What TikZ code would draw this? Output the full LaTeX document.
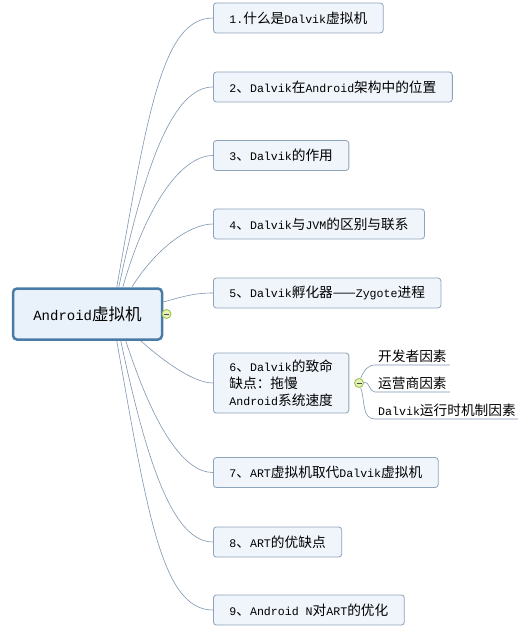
\documentclass[tikz,border=0pt]{standalone}
\usepackage{fontspec}
\setmainfont{Liberation Mono}
\newfontfamily\zhfont{Noto Sans CJK SC}[Scale=1.18]
\newcommand\zh[1]{{\zhfont #1}}
\usetikzlibrary{positioning}
\definecolor{linec}{HTML}{7F97B0}
\definecolor{boxline}{HTML}{8EA4BA}
\definecolor{boxfill}{HTML}{F0F5FB}
\definecolor{rootline}{HTML}{4A7BA6}
\definecolor{rootfill}{HTML}{E9F1FA}
\definecolor{foldline}{HTML}{9BC040}
\definecolor{foldfill}{HTML}{E4F2B8}
\tikzset{
  root/.style={
    draw = rootline,
    fill = rootfill,
    line width = 2.5pt,
    rounded corners = 4pt,
    minimum width = 149pt,
    minimum height = 51pt,
    font = \fontsize{14}{17}\selectfont
  },
  topic/.style={
    draw = boxline,
    fill = boxfill,
    line width = .8pt,
    rounded corners = 3pt,
    anchor = west,
    inner xsep = 16pt,
    minimum height = 30pt,
    font = \fontsize{11.6}{17}\selectfont
  },
  leaf/.style={
    anchor = south west,
    inner xsep = 3pt,
    inner ysep = 2pt,
    font = \fontsize{11.6}{14}\selectfont
  },
  fold/.style={
    circle,
    draw = foldline,
    fill = foldfill,
    line width = .8pt,
    minimum size = 9pt,
    inner sep = 0pt,
    path picture = {\draw[line width=.6pt, black!70]
      ([xshift=-2.5pt]path picture bounding box.center) --
      ([xshift=2.5pt]path picture bounding box.center);}
  },
  branch/.style={
    draw = linec,
    line width = .6pt
  }
}
\begin{document}
\begin{tikzpicture}[x=1pt,y=-1pt]
  \useasboundingbox[fill=white] (0,0) rectangle (518,628);

  % central topic
  \node[root] (root) at (87.5,314) {Android\zh{虚拟机}};

  % main branches
  \node[topic] (t1) at (213,18) {1.\zh{什么是}Dalvik\zh{虚拟机}};
  \node[topic] (t2) at (213,87) {2\zh{、}Dalvik\zh{在}Android\zh{架构中的位置}};
  \node[topic] (t3) at (213,155.5) {3\zh{、}Dalvik\zh{的作用}};
  \node[topic] (t4) at (213,224) {4\zh{、}Dalvik\zh{与}JVM\zh{的区别与联系}};
  \node[topic] (t5) at (213,293) {5\zh{、}Dalvik\zh{孵化器——}Zygote\zh{进程}};
  \node[topic, align=left, minimum height=60pt] (t6) at (213,383)
    {6\zh{、}Dalvik\zh{的致命}\\\zh{缺点：拖慢}\\Android\zh{系统速度}};
  \node[topic] (t7) at (213,472.5) {7\zh{、}ART\zh{虚拟机取代}Dalvik\zh{虚拟机}};
  \node[topic] (t8) at (213,542) {8\zh{、}ART\zh{的优缺点}};
  \node[topic] (t9) at (213,610) {9\zh{、}Android N\zh{对}ART\zh{的优化}};

  % sub topics of 6
  \node[leaf] (s1) at (375,365) {\zh{开发者因素}};
  \node[leaf] (s2) at (375,392) {\zh{运营商因素}};
  \node[leaf] (s3) at (375,419) {Dalvik\zh{运行时机制因素}};

  % start points on the central topic
  \coordinate (r1) at ([xshift=105pt]root.north west);
  \coordinate (r2) at ([xshift=107pt]root.north west);
  \coordinate (r3) at ([xshift=111pt]root.north west);
  \coordinate (r4) at ([xshift=120pt]root.north west);
  \coordinate (r5) at ([yshift=12pt]root.east);
  \coordinate (r6) at ([xshift=129pt]root.south west);
  \coordinate (r7) at ([xshift=114pt]root.south west);
  \coordinate (r8) at ([xshift=109pt]root.south west);
  \coordinate (r9) at ([xshift=105pt]root.south west);

  \draw[branch] (r1) to[out=80, in=180, out looseness=1.6, in looseness=.45] (t1.west);
  \draw[branch] (r2) to[out=78, in=180, out looseness=1.5, in looseness=.45] (t2.west);
  \draw[branch] (r3) to[out=74, in=180, out looseness=1.4, in looseness=.5] (t3.west);
  \draw[branch] (r4) to[out=58, in=180, out looseness=1.1, in looseness=.6] (t4.west);
  \draw[branch] (r5) to[out=15, in=180] (t5.west);
  \draw[branch] (r6) to[out=-42, in=180, out looseness=.9, in looseness=.6] (t6.west);
  \draw[branch] (r7) to[out=-72, in=180, out looseness=1.4, in looseness=.5] (t7.west);
  \draw[branch] (r8) to[out=-78, in=180, out looseness=1.5, in looseness=.45] (t8.west);
  \draw[branch] (r9) to[out=-80, in=180, out looseness=1.6, in looseness=.45] (t9.west);

  % fold markers
  \node[fold] (f0) at (166.5,314) {};
  \node[fold] (f6) at (359,383) {};

  \draw[branch] (f6) to[out=70, in=180] (s1.south west) -- (s1.south east);
  \draw[branch] (f6) to[out=10, in=180] (s2.south west) -- (s2.south east);
  \draw[branch] (f6) to[out=-70, in=180] (s3.south west) -- (s3.south east);
\end{tikzpicture}
\end{document}
